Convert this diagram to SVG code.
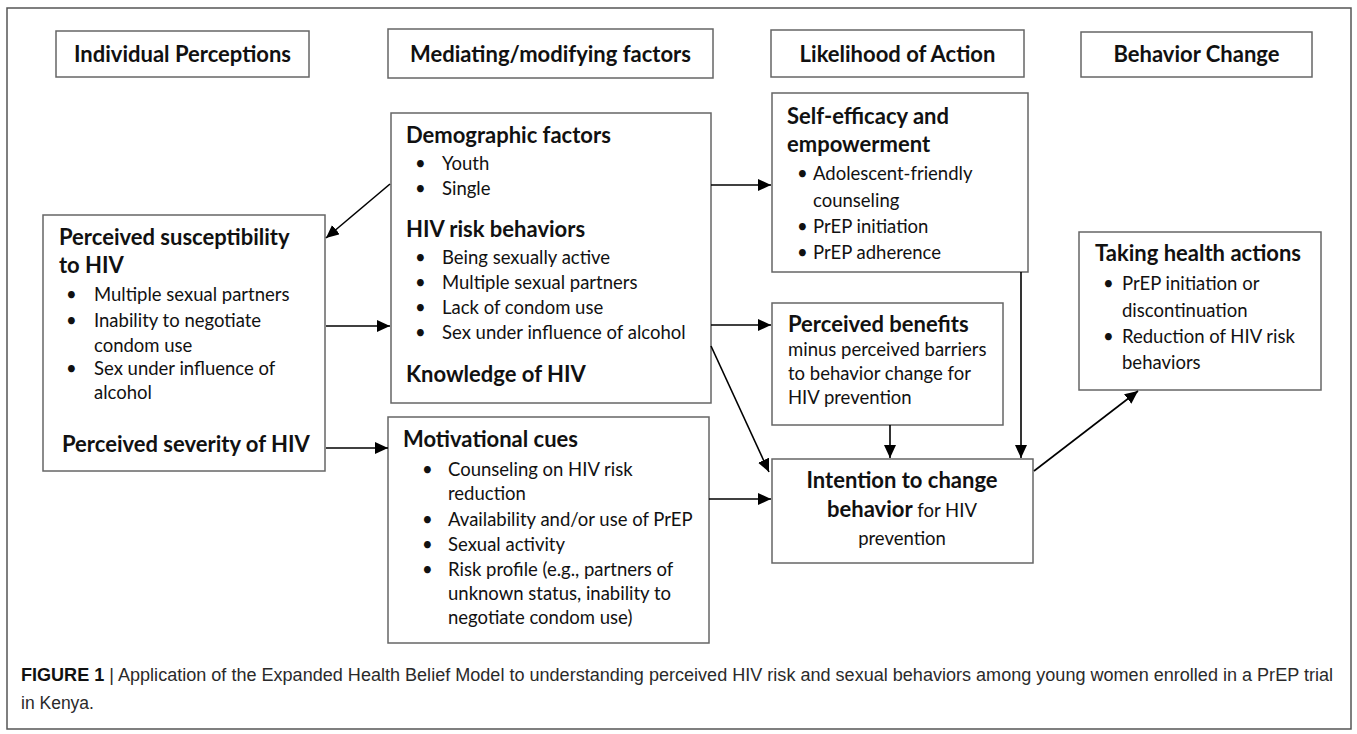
<svg xmlns="http://www.w3.org/2000/svg" width="1357" height="734" viewBox="0 0 1357 734">
<defs>
<style>
.frame{fill:#fff;stroke:#555;stroke-width:1.5}
.box{fill:#fff;stroke:#666;stroke-width:1.5}
.hd{font-family:Lato,"Open Sans",sans-serif;font-weight:bold;font-size:22px;fill:#111}
.b{font-family:Lato,"Open Sans",sans-serif;font-weight:bold;font-size:22px;fill:#111}
.t{font-family:Lato,"Open Sans",sans-serif;font-size:18.5px;fill:#111}
.cap{font-family:"Liberation Sans",Arial,sans-serif;font-size:17.5px;fill:#2a2a2a}
.con{stroke:#000;stroke-width:1.6;fill:none;marker-end:url(#ah)}
</style>
<marker id="ah" markerUnits="userSpaceOnUse" markerWidth="14" markerHeight="12" refX="13" refY="6" orient="auto">
<path d="M0,0 L13,6 L0,12 z" fill="#000"/>
</marker>
</defs>
<rect width="1357" height="734" fill="#fff"/>
<rect class="frame" x="7" y="8" width="1344" height="721"/>

<g id="h-individual"><rect class="box" x="56" y="31" width="253" height="46"/><text class="hd" x="182.5" y="62" text-anchor="middle">Individual Perceptions</text></g>
<g id="h-mediating"><rect class="box" x="388" y="29" width="325" height="49"/><text class="hd" x="550.5" y="62" text-anchor="middle">Mediating/modifying factors</text></g>
<g id="h-likelihood"><rect class="box" x="771" y="30" width="253" height="47"/><text class="hd" x="897.5" y="62" text-anchor="middle">Likelihood of Action</text></g>
<g id="h-behavior"><rect class="box" x="1081" y="32" width="231" height="45"/><text class="hd" x="1196.5" y="62" text-anchor="middle">Behavior Change</text></g>

<g id="n-susceptibility">
<rect class="box" x="43" y="215" width="282" height="256"/>
<text class="b" x="59" y="245">Perceived susceptibility</text>
<text class="b" x="59" y="273">to HIV</text>
<text class="t" x="66" y="301">•</text><text class="t" x="94" y="301">Multiple sexual partners</text>
<text class="t" x="66" y="327">•</text><text class="t" x="94" y="327">Inability to negotiate</text>
<text class="t" x="94" y="352">condom use</text>
<text class="t" x="66" y="375">•</text><text class="t" x="94" y="375">Sex under influence of</text>
<text class="t" x="94" y="399">alcohol</text>
<text class="b" x="62" y="452">Perceived severity of HIV</text>
</g>

<g id="n-demographic">
<rect class="box" x="391" y="113" width="320" height="290"/>
<text class="b" x="406" y="143">Demographic factors</text>
<text class="t" x="415" y="170">•</text><text class="t" x="442" y="170">Youth</text>
<text class="t" x="415" y="195">•</text><text class="t" x="442" y="195">Single</text>
<text class="b" x="406" y="237">HIV risk behaviors</text>
<text class="t" x="415" y="264">•</text><text class="t" x="442" y="264">Being sexually active</text>
<text class="t" x="415" y="289">•</text><text class="t" x="442" y="289">Multiple sexual partners</text>
<text class="t" x="415" y="314">•</text><text class="t" x="442" y="314">Lack of condom use</text>
<text class="t" x="415" y="339">•</text><text class="t" x="442" y="339">Sex under influence of alcohol</text>
<text class="b" x="406" y="382">Knowledge of HIV</text>
</g>

<g id="n-motivational">
<rect class="box" x="388" y="417" width="321" height="226"/>
<text class="b" x="403" y="447">Motivational cues</text>
<text class="t" x="422" y="476">•</text><text class="t" x="448" y="476">Counseling on HIV risk</text>
<text class="t" x="448" y="500">reduction</text>
<text class="t" x="422" y="526">•</text><text class="t" x="448" y="526">Availability and/or use of PrEP</text>
<text class="t" x="422" y="551">•</text><text class="t" x="448" y="551">Sexual activity</text>
<text class="t" x="422" y="576">•</text><text class="t" x="448" y="576">Risk profile (e.g., partners of</text>
<text class="t" x="448" y="600">unknown status, inability to</text>
<text class="t" x="448" y="624">negotiate condom use)</text>
</g>

<g id="n-selfefficacy">
<rect class="box" x="772" y="93" width="256" height="179"/>
<text class="b" x="787" y="124">Self-efficacy and</text>
<text class="b" x="787" y="152">empowerment</text>
<text class="t" x="797" y="180">•</text><text class="t" x="813" y="180">Adolescent-friendly</text>
<text class="t" x="813" y="207">counseling</text>
<text class="t" x="797" y="233">•</text><text class="t" x="813" y="233">PrEP initiation</text>
<text class="t" x="797" y="259">•</text><text class="t" x="813" y="259">PrEP adherence</text>
</g>

<g id="n-benefits">
<rect class="box" x="772" y="303" width="231" height="122"/>
<text class="b" x="788" y="332">Perceived benefits</text>
<text class="t" x="788" y="356">minus perceived barriers</text>
<text class="t" x="788" y="380">to behavior change for</text>
<text class="t" x="788" y="404">HIV prevention</text>
</g>

<g id="n-intention">
<rect class="box" x="772" y="459" width="261" height="104"/>
<text class="b" x="902" y="488" text-anchor="middle">Intention to change</text>
<text x="902" y="517" text-anchor="middle"><tspan class="b">behavior</tspan><tspan class="t"> for HIV</tspan></text>
<text class="t" x="902" y="545" text-anchor="middle">prevention</text>
</g>

<g id="n-taking">
<rect class="box" x="1079" y="232" width="242" height="158"/>
<text class="b" x="1095" y="261">Taking health actions</text>
<text class="t" x="1103" y="290">•</text><text class="t" x="1122" y="290">PrEP initiation or</text>
<text class="t" x="1122" y="317">discontinuation</text>
<text class="t" x="1103" y="343">•</text><text class="t" x="1122" y="343">Reduction of HIV risk</text>
<text class="t" x="1122" y="369">behaviors</text>
</g>

<g id="connectors">
<line class="con" x1="390" y1="184" x2="326" y2="238"/>
<line class="con" x1="326" y1="326" x2="390" y2="326"/>
<line class="con" x1="326" y1="448" x2="388" y2="448"/>
<line class="con" x1="711" y1="185" x2="771" y2="185"/>
<line class="con" x1="711" y1="325" x2="771" y2="325"/>
<line class="con" x1="711" y1="346" x2="769" y2="472"/>
<line class="con" x1="709" y1="499" x2="771" y2="499"/>
<line class="con" x1="890" y1="425" x2="890" y2="458"/>
<line class="con" x1="1021" y1="272" x2="1021" y2="458"/>
<line class="con" x1="1034" y1="471" x2="1138" y2="391"/>
</g>

<g id="caption">
<text class="cap" x="21" y="681" textLength="1312" lengthAdjust="spacingAndGlyphs"><tspan font-weight="bold" fill="#111">FIGURE 1</tspan> | Application of the Expanded Health Belief Model to understanding perceived HIV risk and sexual behaviors among young women enrolled in a PrEP trial</text>
<text class="cap" x="21" y="709">in Kenya.</text>
</g>
</svg>
